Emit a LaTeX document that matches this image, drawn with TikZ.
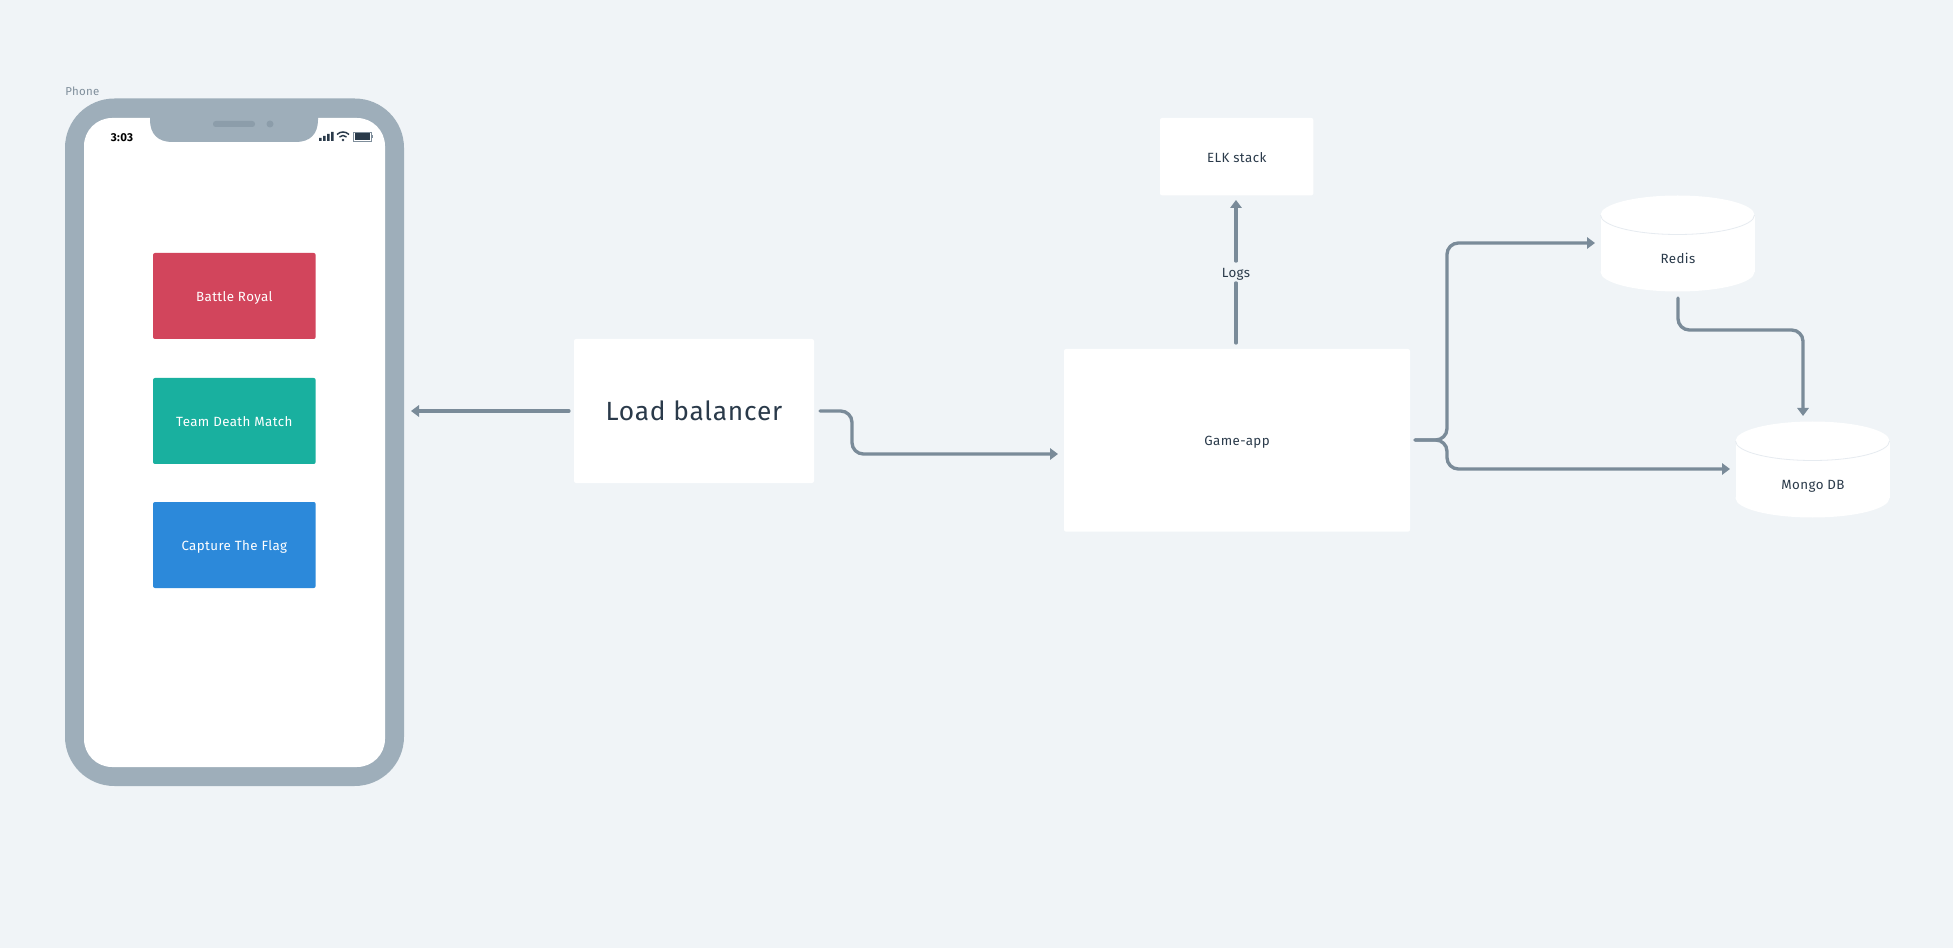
\documentclass[tikz,border=0pt]{standalone}
\usepackage{fontspec}
\setmainfont[LetterSpace=3]{Fira Sans}
\usetikzlibrary{arrows.meta}
\definecolor{bgc}{HTML}{F0F4F7}
\definecolor{frame}{HTML}{9EAEBA}
\definecolor{notchd}{HTML}{8C9DAA}
\definecolor{connc}{HTML}{7A8B99}
\definecolor{ink}{HTML}{2A3A4A}
\definecolor{lbl}{HTML}{7F8E9B}
\definecolor{cred}{HTML}{D2455C}
\definecolor{cgreen}{HTML}{19B09F}
\definecolor{cblue}{HTML}{2C89DA}
\definecolor{rimc}{HTML}{E6EBF0}
\tikzset{
  x=0.75pt,y=-0.75pt,
  body/.style={font=\fontsize{10pt}{12pt}\selectfont,text height=8.4pt,text depth=0pt},
  box/.style={fill=white,rounded corners=1.5pt,inner sep=0,outer sep=0,text=ink,body},
  game/.style={rounded corners=1.5pt,inner sep=0,outer sep=0,text=white,minimum width=122pt,minimum height=64.5pt,body},
  connp/.style={draw=connc,line width=2.5pt,rounded corners=8.5pt,line cap=round},
  conn/.style={connp,-{Triangle[length=6pt,width=8.5pt]}},
}
\newcommand{\cyl}[2]{% centre x, top y
  \fill[white] (#1,#2+20) ellipse[x radius=77,y radius=19.5];
  \fill[white] (#1,#2+77) ellipse[x radius=77,y radius=19.5];
  \fill[white] (#1-77,#2+20) rectangle (#1+77,#2+77);
  \draw[rimc,line width=0.6pt] (#1-77,#2+20) arc[x radius=77,y radius=19.5,start angle=180,end angle=0];
}
\begin{document}
\begin{tikzpicture}
\useasboundingbox (0,0) rectangle (1953,948);
\fill[bgc] (0,0) rectangle (1953,948);
% phone
\node[anchor=west,text=lbl,font=\fontsize{8.6pt}{11pt}\selectfont,inner sep=0] (phonelabel) at (65,91) {Phone};
\fill[frame,rounded corners=37pt] (65,98.5) rectangle (404,786);
\fill[white,rounded corners=21pt] (84,118) rectangle (385,767);
\fill[frame] (150,116) -- (318,116) -- (318,120) .. controls (318,134) and (310,142) .. (296,142) -- (172,142) .. controls (158,142) and (150,134) .. (150,120) -- cycle;
\fill[notchd,rounded corners=2pt] (213,121) rectangle (255,127);
\fill[notchd] (270,124) circle[radius=3.5];
\node[font=\bfseries\fontsize{8.6pt}{11pt}\selectfont,text=black,inner sep=0] (clock) at (122,138) {3:03};
\fill[ink] (319,138) rectangle +(2.6,3) (323,136) rectangle +(2.6,5) (327,134) rectangle +(2.6,7) (331,132) rectangle +(2.6,9);
\draw[ink,line width=1.1pt] (343,140.5) ++(225:8.5) arc[start angle=225,end angle=315,radius=8.5];
\draw[ink,line width=1.1pt] (343,140.5) ++(225:5) arc[start angle=225,end angle=315,radius=5];
\fill[ink] (343,140) circle[radius=1.4];
\draw[lbl,line width=0.5pt] (353.5,132.5) rectangle (371,141);
\fill[ink] (354.5,133.5) rectangle (370,140);
\fill[lbl] (371.5,135) rectangle (372.5,138.5);
% game modes
\node[game,fill=cred,anchor=north west] (br) at (153,253) {Battle Royal};
\node[game,fill=cgreen,anchor=north west] (tdm) at (153,378) {Team Death Match};
\node[game,fill=cblue,anchor=north west] (ctf) at (153,502) {Capture The Flag};
% boxes
\node[box,anchor=north west,minimum width=180pt,minimum height=108pt,font=\fontsize{19.75pt}{24pt}\selectfont,text height=13.7pt,text depth=0pt] (lb) at (574,339) {Load balancer};
\node[box,anchor=north west,minimum width=259.5pt,minimum height=137pt] (app) at (1064,349) {Game-app};
\node[box,anchor=north west,minimum width=115pt,minimum height=58pt] (elk) at (1160,118) {ELK stack};
% cylinders
\cyl{1677.5}{195}
\node[text=ink,body,inner sep=0] (redis) at (1678,258) {Redis};
\cyl{1812.5}{421}
\node[text=ink,body,inner sep=0] (mongo) at (1813,484) {Mongo DB};
% connectors
\coordinate (phoneedge) at (411,411);
\coordinate (lbl1) at (569,411);
\draw[conn] (lbl1) -- (phoneedge);
\coordinate (lbr) at (820,411);
\coordinate (appin) at (1058,454);
\draw[conn] (lbr) -- (852,411) -- (852,454) -- (appin);
\coordinate (appout) at (1415,440);
\coordinate (redisin) at (1595,243);
\coordinate (mongoin) at (1730,469);
\draw[conn] (appout) -- (1447,440) -- (1447,243) -- (redisin);
\draw[conn] (appout) -- (1447,440) -- (1447,469) -- (mongoin);
\coordinate (redisout) at (1678,298);
\coordinate (mongotop) at (1803,416);
\draw[conn] (redisout) -- (1678,330) -- (1803,330) -- (mongotop);
\coordinate (apptop) at (1236,343);
\coordinate (elkb) at (1236,200);
\node[text=ink,body,inner sep=0,minimum height=16pt] (logs) at (1236,272) {Logs};
\draw[connp] (apptop) -- (logs);
\draw[conn] (logs) -- (elkb);
\end{tikzpicture}
\end{document}
